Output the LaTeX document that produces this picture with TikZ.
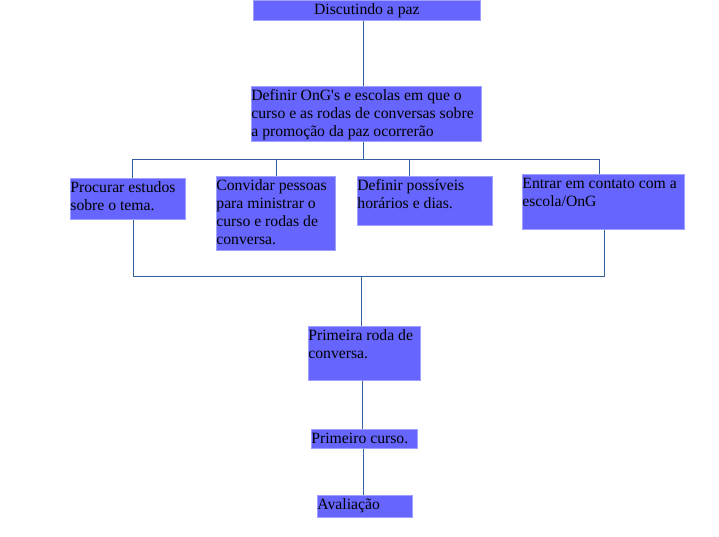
\documentclass[tikz,border=0pt]{standalone}
\usepackage{fontspec}
\setmainfont{Liberation Serif}
\definecolor{boxfill}{RGB}{102,102,255}
\definecolor{boxedge}{RGB}{160,160,255}
\definecolor{linkblue}{RGB}{52,96,160}
\newcommand{\boxtext}[3]{\parbox[c][#2][t]{#1}{\raggedright\rule{0pt}{14pt}#3}}
\tikzset{
  box/.style={fill=boxfill, draw=boxedge, line width=0.8pt, inner sep=0pt, anchor=north west, font=\fontsize{15.7}{18}\selectfont},
  link/.style={draw=linkblue, line width=1pt}
}
\begin{document}
\begin{tikzpicture}[x=1pt,y=1pt,yscale=-1]
\useasboundingbox (0,0) rectangle (719,537);

%Shape: Rectangle
\node[box] (top) at (253,0) {\parbox[c][20pt][c]{227pt}{\centering Discutindo a paz}};
%Shape: Rectangle
\node[box] (def) at (251,86) {\boxtext{230pt}{55pt}{Definir OnG\textquotesingle s e escolas em que o\\curso e as rodas de conversas sobre\\a promoção da paz ocorrerão}};
%Shape: Rectangle
\node[box] (b1) at (70,178) {\boxtext{115pt}{41pt}{Procurar estudos\\sobre o tema.}};
%Shape: Rectangle
\node[box] (b2) at (216,176) {\boxtext{119pt}{74pt}{Convidar pessoas\\para ministrar o\\curso e rodas de\\conversa.}};
%Shape: Rectangle
\node[box] (b3) at (357,176) {\boxtext{135pt}{49pt}{Definir possíveis\\horários e dias.}};
%Shape: Rectangle
\node[box] (b4) at (522,174) {\boxtext{162pt}{55pt}{Entrar em contato com a\\escola/OnG}};
%Shape: Rectangle
\node[box] (r1) at (308,326) {\boxtext{112pt}{54pt}{Primeira roda de\\conversa.}};
%Shape: Rectangle
\node[box] (c1) at (311,429) {\boxtext{106pt}{19pt}{Primeiro curso.}};
%Shape: Rectangle
\node[box] (a1) at (317,495) {\boxtext{95pt}{22pt}{Avaliação}};

\coordinate (x0) at (363,160);
\coordinate (x1) at (132,160);
\coordinate (x2) at (276,160);
\coordinate (x3) at (409,160);
\coordinate (x4) at (599,160);
\coordinate (y1) at (133,276);
\coordinate (y4) at (604,276);
\coordinate (ym) at (361,276);
\coordinate (zm) at (362,400);

%Straight Lines
\draw[link] (top.south -| x0) -- (def.north -| x0);
%Straight Lines
\draw[link] (def.south -| x0) -- (x0);
%Straight Lines
\draw[link] (b1.north -| x1) -- (x1) -- (x4) -- (b4.north -| x4);
%Straight Lines
\draw[link] (x2) -- (b2.north -| x2);
%Straight Lines
\draw[link] (x3) -- (b3.north -| x3);
%Straight Lines
\draw[link] (b1.south -| y1) -- (y1) -- (y4) -- (b4.south -| y4);
%Straight Lines
\draw[link] (ym) -- (r1.north -| ym);
%Straight Lines
\draw[link] (r1.south -| zm) -- (c1.north -| zm);
%Straight Lines
\draw[link] (c1.south -| x0) -- (a1.north -| x0);

\end{tikzpicture}
\end{document}
